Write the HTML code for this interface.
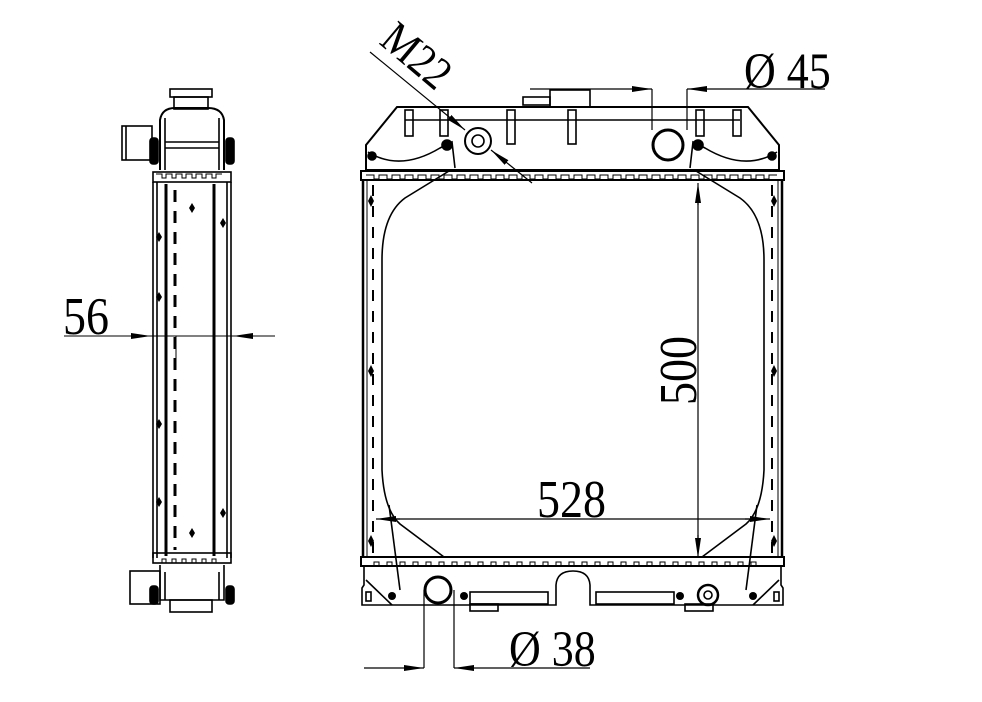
<!DOCTYPE html>
<html><head><meta charset="utf-8"><style>
html,body{margin:0;padding:0;background:#fff;}
svg{display:block;}
text{font-family:"Liberation Serif",serif;fill:#000;}
</style></head><body>
<svg width="982" height="702" viewBox="0 0 982 702" xmlns="http://www.w3.org/2000/svg">
<defs>
<marker id="arl" viewBox="0 0 20 6" refX="20" refY="3" markerWidth="20" markerHeight="6" markerUnits="userSpaceOnUse" orient="auto-start-reverse">
<path d="M0,0 L20,3 L0,6 z" fill="#000"/></marker>
</defs>
<g fill="none" stroke="#000" stroke-width="1.6">
<rect x="170" y="89" width="42" height="8"/>
<rect x="174" y="97" width="34" height="12"/>
<path d="M160,170 L160,120 Q162,108 175,108 L208,108 Q222,108 224,120 L224,170" stroke-width="2"/>
<line x1="165" y1="142" x2="219" y2="142"/>
<line x1="165" y1="148" x2="219" y2="148"/>
<line x1="165" y1="118" x2="165" y2="170"/><line x1="219" y1="118" x2="219" y2="170"/>
<rect x="122" y="126" width="30" height="34"/>
<line x1="126" y1="126" x2="126" y2="160"/>
<rect x="150" y="138" width="8" height="26" rx="3" fill="#000"/>
<rect x="226" y="138" width="8" height="26" rx="3" fill="#000"/>
<rect x="153" y="172" width="78" height="10"/>
<path d="M156,174 h6 v4 h4 v-4 h6 v4 h4 v-4 h6 v4 h4 v-4 h6 v4 h4 v-4 h6 v4 h4 v-4 h6 v4 h4 v-4 h6" stroke-width="1"/>
<line x1="153" y1="182" x2="153" y2="558"/>
<line x1="231" y1="182" x2="231" y2="558"/>
<line x1="157" y1="182" x2="157" y2="558"/>
<line x1="227" y1="182" x2="227" y2="558"/>
<line x1="166" y1="184" x2="166" y2="556" stroke-width="3"/>
<line x1="214" y1="184" x2="214" y2="556" stroke-width="3"/>
<line x1="175" y1="190" x2="175" y2="550" stroke-width="3" stroke-dasharray="12,9"/>
<line x1="176" y1="336" x2="176" y2="370" stroke-width="1"/>
<rect x="153" y="553" width="78" height="10"/>
<path d="M156,563 h6 v-4 h4 v4 h6 v-4 h4 v4 h6 v-4 h4 v4 h6 v-4 h4 v4 h6 v-4 h4 v4 h6 v-4 h4 v4 h6" stroke-width="1"/>
<path d="M160,565 L160,600 L224,600 L224,565"/>
<line x1="165" y1="572" x2="165" y2="600"/><line x1="219" y1="572" x2="219" y2="600"/>
<rect x="130" y="571" width="30" height="33"/>
<rect x="150" y="586" width="8" height="18" rx="3" fill="#000"/>
<rect x="226" y="586" width="8" height="18" rx="3" fill="#000"/>
<rect x="170" y="600" width="42" height="12"/>
<line x1="64" y1="336" x2="151" y2="336" stroke-width="1" marker-end="url(#arl)"/>
<line x1="275" y1="336" x2="233" y2="336" stroke-width="1" marker-end="url(#arl)"/>
<line x1="151" y1="336" x2="233" y2="336" stroke-width="1"/>
</g>
<g fill="#000">
<path d="M192,203 l3,5 l-3,5 l-3,-5z"/><path d="M159,232 l3,5 l-3,5 l-3,-5z"/><path d="M223,218 l3,5 l-3,5 l-3,-5z"/>
<path d="M159,292 l3,5 l-3,5 l-3,-5z"/><path d="M159,419 l3,5 l-3,5 l-3,-5z"/><path d="M159,497 l3,5 l-3,5 l-3,-5z"/>
<path d="M223,508 l3,5 l-3,5 l-3,-5z"/><path d="M192,528 l3,5 l-3,5 l-3,-5z"/>
</g>
<text font-size="46" transform="translate(63,334) scale(1,1.15)">56</text>

<g fill="none" stroke="#000" stroke-width="1.6">
<path d="M397,107 L748,107 L779,145 L779,170 L366,170 L366,145 Z" stroke-width="2"/>
<line x1="405" y1="120" x2="740" y2="120"/>
<rect x="405" y="110" width="8" height="26"/><rect x="440" y="110" width="8" height="26"/>
<rect x="507" y="110" width="8" height="34"/><rect x="568" y="110" width="8" height="34"/>
<rect x="696" y="110" width="8" height="26"/><rect x="733" y="110" width="8" height="26"/>
<path d="M368,152 Q400,172 440,148 L452,142 L455,168"/>
<path d="M777,152 Q745,172 705,148 L693,142 L690,168"/>
<circle cx="447" cy="145" r="5" fill="#000"/><circle cx="698" cy="145" r="5" fill="#000"/>
<circle cx="372" cy="156" r="4" fill="#000"/><circle cx="772" cy="156" r="4" fill="#000"/>
<circle cx="478" cy="141" r="13" stroke-width="2"/><circle cx="478" cy="141" r="6"/>
<circle cx="668" cy="145" r="15" stroke-width="3"/>
<rect x="550" y="90" width="40" height="17"/><rect x="523" y="97" width="27" height="8"/>
<rect x="361" y="171" width="423" height="9" stroke-width="2"/>
<path d="M366,175 h8 v4 h5 v-4 h8 v4 h5 v-4 h8 v4 h5 v-4 h8 v4 h5 v-4 h8 v4 h5 v-4 h8 v4 h5 v-4 h8 v4 h5 v-4 h8 v4 h5 v-4 h8 v4 h5 v-4 h8 v4 h5 v-4 h8 v4 h5 v-4 h8 v4 h5 v-4 h8 v4 h5 v-4 h8 v4 h5 v-4 h8 v4 h5 v-4 h8 v4 h5 v-4 h8 v4 h5 v-4 h8 v4 h5 v-4 h8 v4 h5 v-4 h8 v4 h5 v-4 h8 v4 h5 v-4 h8 v4 h5 v-4 h8 v4 h5 v-4 h8 v4 h5 v-4 h8 v4 h5 v-4 h8 v4 h5 v-4 h8 v4 h5 v-4 h8 v4 h5 v-4 h8 v4 h5 v-4 h8 v4 h5 v-4 h8 v4 h5 v-4 h8" stroke-width="1"/>
<line x1="363" y1="180" x2="363" y2="557" stroke-width="2.5"/>
<line x1="782" y1="180" x2="782" y2="557" stroke-width="2.5"/>
<line x1="367" y1="180" x2="367" y2="557" stroke-width="1"/>
<line x1="778" y1="180" x2="778" y2="557" stroke-width="1"/>
<line x1="373" y1="185" x2="373" y2="553" stroke-width="2" stroke-dasharray="11,10"/>
<line x1="772" y1="185" x2="772" y2="553" stroke-width="2" stroke-dasharray="11,10"/>
<path d="M449,171 L405,198 Q382,215 382,260 L382,470 Q384,510 400,524 L444,557"/>
<path d="M696,171 L740,198 Q764,215 764,260 L764,470 Q762,510 746,524 L702,557"/>
<line x1="389" y1="505" x2="400" y2="590"/><line x1="757" y1="505" x2="746" y2="590"/>
<rect x="361" y="557" width="423" height="9" stroke-width="2"/>
<path d="M366,566 h8 v-4 h5 v4 h8 v-4 h5 v4 h8 v-4 h5 v4 h8 v-4 h5 v4 h8 v-4 h5 v4 h8 v-4 h5 v4 h8 v-4 h5 v4 h8 v-4 h5 v4 h8 v-4 h5 v4 h8 v-4 h5 v4 h8 v-4 h5 v4 h8 v-4 h5 v4 h8 v-4 h5 v4 h8 v-4 h5 v4 h8 v-4 h5 v4 h8 v-4 h5 v4 h8 v-4 h5 v4 h8 v-4 h5 v4 h8 v-4 h5 v4 h8 v-4 h5 v4 h8 v-4 h5 v4 h8 v-4 h5 v4 h8 v-4 h5 v4 h8 v-4 h5 v4 h8 v-4 h5 v4 h8 v-4 h5 v4 h8 v-4 h5 v4 h8 v-4 h5 v4 h8 v-4 h5 v4 h8 v-4 h5 v4 h8" stroke-width="1"/>
<path d="M364,566 L364,585 L362,588 L362,605 L556,605 L556,585 Q557,571 573,571 Q589,571 590,585 L590,605 L783,605 L783,588 L781,585 L781,566"/>
<line x1="366" y1="580" x2="392" y2="605"/><line x1="779" y1="580" x2="753" y2="605"/>
<rect x="366" y="592" width="5" height="9"/><rect x="774" y="592" width="5" height="9"/>
<rect x="470" y="592" width="78" height="12"/><rect x="470" y="604" width="28" height="7"/>
<rect x="596" y="592" width="78" height="12"/><rect x="685" y="604" width="28" height="7"/>
<circle cx="438" cy="590" r="13" stroke-width="3"/>
<circle cx="708" cy="595" r="10" stroke-width="2.5"/><circle cx="708" cy="595" r="4"/>
</g>
<g fill="#000">
<circle cx="392" cy="596" r="4"/><circle cx="464" cy="596" r="4"/><circle cx="680" cy="596" r="4"/><circle cx="753" cy="596" r="4"/>
<path d="M371,195 l3,6 l-3,6 l-3,-6z"/><path d="M371,365 l3,6 l-3,6 l-3,-6z"/><path d="M371,535 l3,6 l-3,6 l-3,-6z"/>
<path d="M774,195 l3,6 l-3,6 l-3,-6z"/><path d="M774,365 l3,6 l-3,6 l-3,-6z"/><path d="M774,535 l3,6 l-3,6 l-3,-6z"/>
</g>
<g fill="none" stroke="#000" stroke-width="1.2">
<line x1="698" y1="205" x2="698" y2="183" marker-end="url(#arl)"/>
<line x1="698" y1="535" x2="698" y2="558" marker-end="url(#arl)"/>
<line x1="698" y1="200" x2="698" y2="540"/>
<line x1="400" y1="519" x2="376" y2="519" marker-end="url(#arl)"/>
<line x1="745" y1="519" x2="770" y2="519" marker-end="url(#arl)"/>
<line x1="395" y1="519" x2="750" y2="519"/>
<line x1="370" y1="52" x2="465" y2="130" marker-end="url(#arl)"/>
<line x1="532" y1="183" x2="491" y2="150" marker-end="url(#arl)"/>
<line x1="530" y1="89" x2="652" y2="89" marker-end="url(#arl)"/>
<line x1="825" y1="89" x2="687" y2="89" marker-end="url(#arl)"/>
<line x1="652" y1="89" x2="652" y2="130"/><line x1="687" y1="89" x2="687" y2="130"/>
<line x1="364" y1="668" x2="424" y2="668" marker-end="url(#arl)"/>
<line x1="590" y1="668" x2="454" y2="668" marker-end="url(#arl)"/>
<line x1="424" y1="590" x2="424" y2="668"/><line x1="454" y1="590" x2="454" y2="668"/>
</g>
<text font-size="46" transform="translate(696,405) rotate(-90) scale(1,1.15)">500</text>
<text font-size="46" transform="translate(537,517) scale(1,1.15)">528</text>
<text font-size="40" transform="translate(378,43) rotate(40) scale(1,1.15)">M22</text>
<text font-size="44" transform="translate(744,88) scale(1,1.15)">Ø 45</text>
<text font-size="44" transform="translate(509,666) scale(1,1.15)">Ø 38</text>
</svg>
</body></html>
